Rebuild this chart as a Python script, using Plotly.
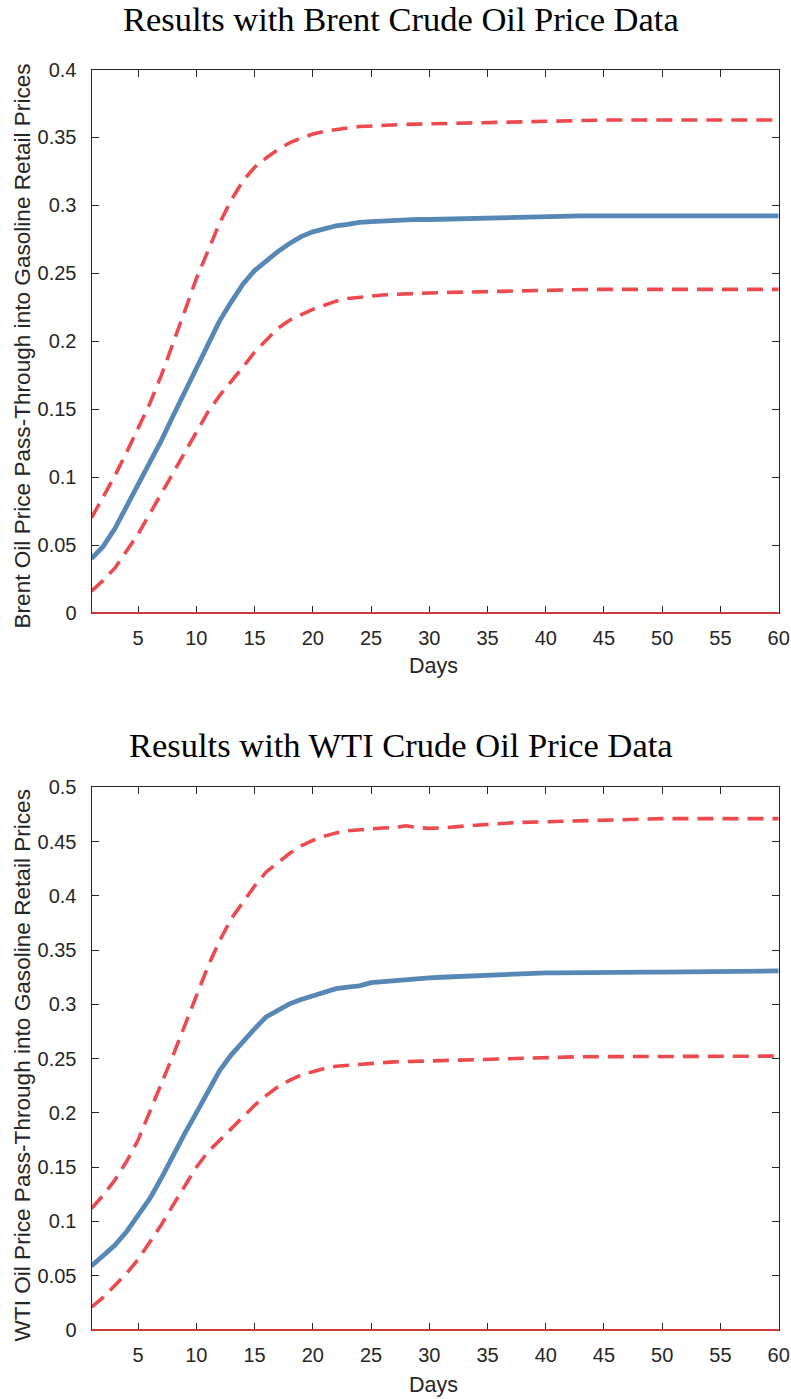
import plotly.graph_objects as go

# ---------------- data ----------------
days = list(range(1, 61))

brent_mid = [0.040, 0.049, 0.062, 0.078, 0.094, 0.110, 0.127, 0.145, 0.163, 0.181,
             0.199, 0.215, 0.229, 0.242, 0.252, 0.2595, 0.266, 0.272, 0.277, 0.2805,
             0.283, 0.285, 0.286, 0.2875, 0.288, 0.2885, 0.289, 0.2895, 0.2897, 0.2896,
             0.2898, 0.2902, 0.2906, 0.2909, 0.2912, 0.2915, 0.2917, 0.2919, 0.2920, 0.2921,
             0.2922, 0.2922, 0.2922, 0.2922, 0.2922, 0.2922, 0.2922, 0.2922, 0.2922, 0.2923,
             0.2923, 0.2923, 0.2923, 0.2923, 0.2923, 0.2922, 0.2922, 0.2922, 0.2922, 0.2922]
brent_up = [0.070, 0.0855, 0.101, 0.118, 0.136, 0.154, 0.175, 0.198, 0.222, 0.246,
            0.267, 0.287, 0.304, 0.318, 0.328, 0.335, 0.341, 0.346, 0.3495, 0.3525,
            0.3545, 0.356, 0.357, 0.358, 0.3585, 0.3589, 0.3593, 0.3596, 0.3598, 0.3600,
            0.3603, 0.3606, 0.3609, 0.3611, 0.3613, 0.3615, 0.3617, 0.3619, 0.3621, 0.3623,
            0.3624, 0.3625, 0.3626, 0.3627, 0.3628, 0.3628, 0.3628, 0.3628, 0.3627, 0.3626,
            0.3626, 0.3627, 0.3628, 0.3628, 0.3628, 0.3628, 0.3628, 0.3628, 0.3628, 0.3628]
brent_lo = [0.016, 0.024, 0.033, 0.045, 0.058, 0.073, 0.088, 0.104, 0.119, 0.134,
            0.148, 0.160, 0.170, 0.181, 0.192, 0.2005, 0.2095, 0.2155, 0.2195, 0.2235,
            0.2265, 0.2295, 0.2315, 0.2325, 0.2335, 0.2340, 0.2345, 0.2350, 0.2352, 0.2355,
            0.2358, 0.2360, 0.2363, 0.2365, 0.2368, 0.2370, 0.2373, 0.2375, 0.2377, 0.2378,
            0.2379, 0.2380, 0.2382, 0.2382, 0.2382, 0.2382, 0.2382, 0.2382, 0.2382, 0.2382,
            0.2382, 0.2382, 0.2382, 0.2382, 0.2382, 0.2382, 0.2382, 0.2382, 0.2382, 0.2382]

wti_mid = [0.059, 0.068, 0.078, 0.0905, 0.105, 0.121, 0.140, 0.161, 0.181, 0.200,
           0.220, 0.239, 0.2535, 0.266, 0.2775, 0.2885, 0.295, 0.3005, 0.3045, 0.308,
           0.3115, 0.3145, 0.316, 0.317, 0.320, 0.321, 0.3225, 0.3232, 0.3235, 0.3245,
           0.3250, 0.3255, 0.3260, 0.3270, 0.3275, 0.3280, 0.3280, 0.3284, 0.3286, 0.3290,
           0.3290, 0.3292, 0.3296, 0.3298, 0.3298, 0.3298, 0.3298, 0.3298, 0.3298, 0.3298,
           0.3298, 0.3298, 0.3298, 0.3298, 0.3298, 0.3298, 0.3298, 0.3302, 0.3305, 0.3308]
wti_up = [0.112, 0.124, 0.138, 0.155, 0.175, 0.200, 0.227, 0.253, 0.281, 0.308,
          0.335, 0.3586, 0.379, 0.394, 0.409, 0.422, 0.431, 0.439, 0.446, 0.451,
          0.455, 0.458, 0.460, 0.461, 0.462, 0.4625, 0.463, 0.4645, 0.4630, 0.4622,
          0.4625, 0.4630, 0.4643, 0.4650, 0.4660, 0.4668, 0.4672, 0.4677, 0.4680, 0.4685,
          0.4690, 0.4690, 0.4695, 0.4698, 0.4700, 0.4705, 0.4708, 0.4710, 0.4711, 0.4711,
          0.4711, 0.4711, 0.4711, 0.4711, 0.4711, 0.4711, 0.4711, 0.4711, 0.4711, 0.4711]
wti_lo = [0.021, 0.030, 0.041, 0.052, 0.065, 0.081, 0.097, 0.115, 0.133, 0.150,
          0.164, 0.175, 0.186, 0.196, 0.207, 0.216, 0.224, 0.230, 0.235, 0.238,
          0.241, 0.243, 0.244, 0.245, 0.2458, 0.2463, 0.2470, 0.2473, 0.2477, 0.2480,
          0.2485, 0.2489, 0.2492, 0.2495, 0.2499, 0.2503, 0.2506, 0.2510, 0.2513, 0.2517,
          0.2518, 0.2518, 0.2518, 0.2518, 0.2518, 0.2518, 0.2518, 0.2518, 0.2518, 0.2518,
          0.2518, 0.2518, 0.2518, 0.2518, 0.2518, 0.2518, 0.2518, 0.2518, 0.2523, 0.2527]

x_ticks = [5, 10, 15, 20, 25, 30, 35, 40, 45, 50, 55, 60]
x_tick_text = ["5", "10", "15", "20", "25", "30", "35", "40", "45", "50", "55", "60"]
y1_ticks = [0, 0.05, 0.1, 0.15, 0.2, 0.25, 0.3, 0.35, 0.4]
y1_tick_text = ["0", "0.05", "0.1", "0.15", "0.2", "0.25", "0.3", "0.35", "0.4"]
y2_ticks = [0, 0.05, 0.1, 0.15, 0.2, 0.25, 0.3, 0.35, 0.4, 0.45, 0.5]
y2_tick_text = ["0", "0.05", "0.1", "0.15", "0.2", "0.25", "0.3", "0.35", "0.4", "0.45", "0.5"]

titles = ["Results with Brent Crude Oil Price Data", "Results with WTI Crude Oil Price Data"]
ylabels = ["Brent Oil Price Pass-Through into Gasoline Retail Prices",
           "WTI Oil Price Pass-Through into Gasoline Retail Prices"]
xlabel = "Days"

# ---------------- style ----------------
W, H = 791, 1399
BLUE = "#5588B4"
RED = "#EC4A4F"
ZERO_RED = "#D23A3A"
AX = "#262626"
SANS = "Liberation Sans, Arial, sans-serif"
SERIF = "Liberation Serif, Times New Roman, serif"

PX_L, PX_R = 91.5, 778.7
PANELS = [(69.5, 613.0), (787.3, 1330.0)]

fig = go.Figure()

series = [(brent_mid, brent_up, brent_lo), (wti_mid, wti_up, wti_lo)]
for i, (mid, up, lo) in enumerate(series):
    xa = "x" if i == 0 else "x2"
    ya = "y" if i == 0 else "y2"
    for vals in (up, lo):
        fig.add_trace(go.Scatter(x=days, y=vals, mode="lines", xaxis=xa, yaxis=ya,
                                 line=dict(color=RED, width=3.6, dash="16px,9px"),
                                 showlegend=False, hoverinfo="skip"))
    fig.add_trace(go.Scatter(x=days, y=mid, mode="lines", xaxis=xa, yaxis=ya,
                             line=dict(color=BLUE, width=4.8),
                             showlegend=False, hoverinfo="skip"))

def xdom():
    return [PX_L / W, PX_R / W]

def ydom(top, bot):
    return [1 - bot / H, 1 - top / H]

common_x = dict(range=[1, 60], tickmode="array", tickvals=x_ticks, ticktext=x_tick_text,
                ticks="inside", ticklen=7, tickwidth=1, tickcolor=AX,
                showline=True, linecolor=AX, linewidth=1, mirror="ticks",
                showgrid=False, zeroline=False, ticklabelstandoff=7,
                tickfont=dict(family=SANS, size=20, color=AX), automargin=False,
                fixedrange=True)
common_y = dict(tickmode="array", ticks="inside", ticklen=7, tickwidth=1, tickcolor=AX,
                showline=True, linecolor=AX, linewidth=1, mirror="ticks",
                showgrid=False, zeroline=False, ticklabelstandoff=10,
                tickfont=dict(family=SANS, size=20, color=AX), automargin=False,
                fixedrange=True)

fig.update_layout(
    xaxis=dict(domain=xdom(), anchor="y", **common_x),
    yaxis=dict(domain=ydom(*PANELS[0]), anchor="x", range=[0, 0.4],
               tickvals=y1_ticks, ticktext=y1_tick_text, **common_y),
    xaxis2=dict(domain=xdom(), anchor="y2", **common_x),
    yaxis2=dict(domain=ydom(*PANELS[1]), anchor="x2", range=[0, 0.5],
                tickvals=y2_ticks, ticktext=y2_tick_text, **common_y),
)

# red zero reference line along the bottom of each panel
shapes = []
for ax in ("", "2"):
    shapes.append(dict(type="line", xref="x" + ax + " domain", yref="y" + ax + " domain",
                       x0=0, x1=1, y0=0, y1=0, layer="above",
                       line=dict(color=ZERO_RED, width=2)))

annotations = []
title_y = [19.5, 745.0]
ylabel_y = [346.0, 1066.0]
xlabel_y = [666.0, 1385.0]
for i in range(2):
    annotations.append(dict(text=titles[i], xref="paper", yref="paper",
                            x=400.5 / W, y=1 - title_y[i] / H, xanchor="center", yanchor="middle",
                            showarrow=False, font=dict(family=SERIF, size=34.5, color="#000000")))
    annotations.append(dict(text=ylabels[i], xref="paper", yref="paper",
                            x=21.5 / W, y=1 - ylabel_y[i] / H, xanchor="center", yanchor="middle",
                            textangle=-90, showarrow=False,
                            font=dict(family=SANS, size=22.6, color=AX)))
    annotations.append(dict(text=xlabel, xref="paper", yref="paper",
                            x=433.0 / W, y=1 - xlabel_y[i] / H, xanchor="center", yanchor="middle",
                            showarrow=False, font=dict(family=SANS, size=21.5, color=AX)))

fig.update_layout(width=W, height=H, margin=dict(l=0, r=0, t=0, b=0, pad=0),
                  paper_bgcolor="white", plot_bgcolor="white",
                  shapes=shapes, annotations=annotations, showlegend=False)

fig.write_html("out.html", config={"displayModeBar": False},
               post_script="document.body.style.margin='0px';document.body.style.overflow='hidden';")
